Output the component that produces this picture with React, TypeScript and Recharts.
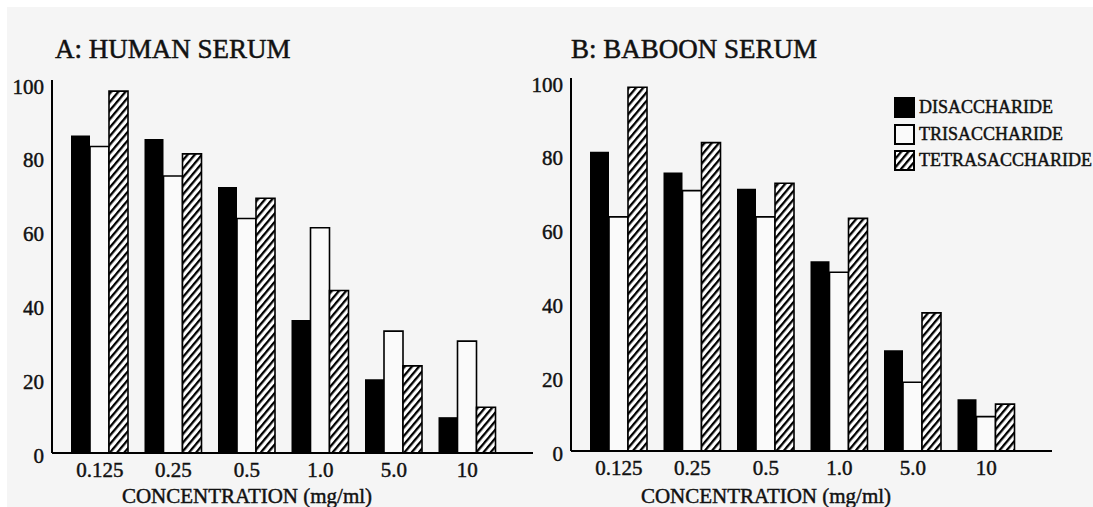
import React from 'react';
import { BarChart, Bar, XAxis, YAxis } from 'recharts';

const categories = ['0.125', '0.25', '0.5', '1.0', '5.0', '10'];
const yTicks = [0, 20, 40, 60, 80, 100];

const humanDi = [86, 85, 72, 36, 20, 9.7];
const humanTri = [83, 75, 63.5, 61, 33, 30.3];
const humanTetra = [98, 81, 69, 44, 23.6, 12.4];

const baboonDi = [81, 75.4, 71, 51.4, 27.3, 14];
const baboonTri = [63.4, 70.5, 63.4, 48.4, 18.6, 9.3];
const baboonTetra = [98.5, 83.5, 72.5, 63, 37.4, 12.7];

const seriesNames = ['DISACCHARIDE', 'TRISACCHARIDE', 'TETRASACCHARIDE'];

const buildData = (a: number[], b: number[], c: number[]) =>
  categories.map((cat, i) => ({ cat, di: a[i], tri: b[i], tetra: c[i] }));

const humanData = buildData(humanDi, humanTri, humanTetra);
const baboonData = buildData(baboonDi, baboonTri, baboonTetra);

const SERIF = '"Liberation Serif", "DejaVu Serif", "Times New Roman", serif';
const INK = '#111';
const THICK = 0.45;

const HatchDef = ({ id }: { id: string }) => (
  <pattern id={id} patternUnits="userSpaceOnUse" width={5.5} height={5.5} patternTransform="rotate(40)">
    <rect width={5.5} height={5.5} fill="#fff" />
    <rect width={2.3} height={5.5} fill="#000" />
  </pattern>
);

const YTick = (props: any) => {
  const { x, y, payload } = props;
  return (
    <text
      x={x}
      y={y + 2.5}
      dy="0.35em"
      textAnchor="end"
      fontSize={21}
      fontFamily={SERIF}
      fill={INK}
      stroke={INK}
      strokeWidth={THICK}
    >
      {payload.value}
    </text>
  );
};

const XTick = (props: any) => {
  const { x, y, payload } = props;
  return (
    <text
      x={x}
      y={y + 1}
      dy="0.71em"
      textAnchor="middle"
      fontSize={21}
      fontFamily={SERIF}
      fill={INK}
      stroke={INK}
      strokeWidth={THICK}
    >
      {payload.value}
    </text>
  );
};

const XTitle = (props: any) => {
  const vb = props.viewBox || {};
  return (
    <text
      x={vb.x + 195}
      y={503}
      textAnchor="middle"
      fontSize={21}
      fontFamily={SERIF}
      fill={INK}
      stroke={INK}
      strokeWidth={THICK}
    >
      CONCENTRATION (mg/ml)
    </text>
  );
};

type PanelProps = {
  data: any[];
  id: string;
  left: number;
  width: number;
  margin: { top: number; right: number; bottom: number; left: number };
  yWidth: number;
};

const Panel = ({ data, id, left, width, margin, yWidth }: PanelProps) => (
  <div style={{ position: 'absolute', left, top: 0 }}>
    <BarChart width={width} height={507} data={data} margin={margin} barSize={19} barGap={0}>
      <defs>
        <HatchDef id={id} />
      </defs>
      <YAxis
        width={yWidth}
        domain={[0, 101]}
        ticks={yTicks}
        interval={0}
        allowDataOverflow
        axisLine={{ stroke: '#000', strokeWidth: 2 }}
        tickLine={false}
        tick={<YTick />}
      />
      <XAxis
        dataKey="cat"
        height={30}
        padding={{ left: 11, right: 29 }}
        axisLine={{ stroke: '#000', strokeWidth: 2 }}
        tickLine={false}
        interval={0}
        tick={<XTick />}
        label={<XTitle />}
      />
      <Bar dataKey="di" name={seriesNames[0]} fill="#000" isAnimationActive={false} />
      <Bar dataKey="tri" name={seriesNames[1]} fill="#fafafa" stroke="#000" strokeWidth={1.6} isAnimationActive={false} />
      <Bar dataKey="tetra" name={seriesNames[2]} fill={`url(#${id})`} stroke="#000" strokeWidth={1.6} isAnimationActive={false} />
    </BarChart>
  </div>
);

const Swatch = ({ kind, id }: { kind: number; id: string }) => (
  <svg width={21} height={21} style={{ display: 'block' }}>
    <defs>
      <HatchDef id={id} />
    </defs>
    <rect
      x={1}
      y={1}
      width={19}
      height={19}
      fill={kind === 0 ? '#000' : kind === 1 ? '#fafafa' : `url(#${id})`}
      stroke="#000"
      strokeWidth={2}
    />
  </svg>
);

const Legend = () => (
  <div style={{ position: 'absolute', left: 894, top: 97 }}>
    {seriesNames.map((name, i) => (
      <div key={name} style={{ display: 'flex', alignItems: 'center', height: 21, marginBottom: 5.5 }}>
        <Swatch kind={i} id={`legHatch${i}`} />
        <span
          style={{
            marginLeft: 4,
            fontFamily: SERIF,
            fontSize: 18,
            color: INK,
            lineHeight: '21px',
            whiteSpace: 'nowrap',
            WebkitTextStroke: `${THICK}px ${INK}`,
          }}
        >
          {name}
        </span>
      </div>
    ))}
  </div>
);

const Title = ({ text, left }: { text: string; left: number }) => (
  <div
    style={{
      position: 'absolute',
      left,
      top: 36,
      fontFamily: SERIF,
      fontSize: 27,
      lineHeight: '27px',
      color: INK,
      whiteSpace: 'nowrap',
      WebkitTextStroke: `0.5px ${INK}`,
    }}
  >
    {text}
  </div>
);

export default function App() {
  return (
    <div style={{ position: 'absolute', left: 0, top: 0, width: 1093, height: 507, background: '#fff', overflow: 'hidden' }}>
      <div style={{ position: 'absolute', left: 7, top: 7, right: 0, bottom: 0, background: '#f5f5f5' }} />
      <Panel
        data={humanData}
        id="hatchA"
        left={0}
        width={545}
        margin={{ top: 80, right: 12, bottom: 24, left: 0 }}
        yWidth={52}
      />
      <Panel
        data={baboonData}
        id="hatchB"
        left={500}
        width={593}
        margin={{ top: 78, right: 41, bottom: 26, left: 0 }}
        yWidth={71}
      />
      <Title text="A: HUMAN SERUM" left={55} />
      <Title text="B: BABOON SERUM" left={571} />
      <Legend />
    </div>
  );
}
